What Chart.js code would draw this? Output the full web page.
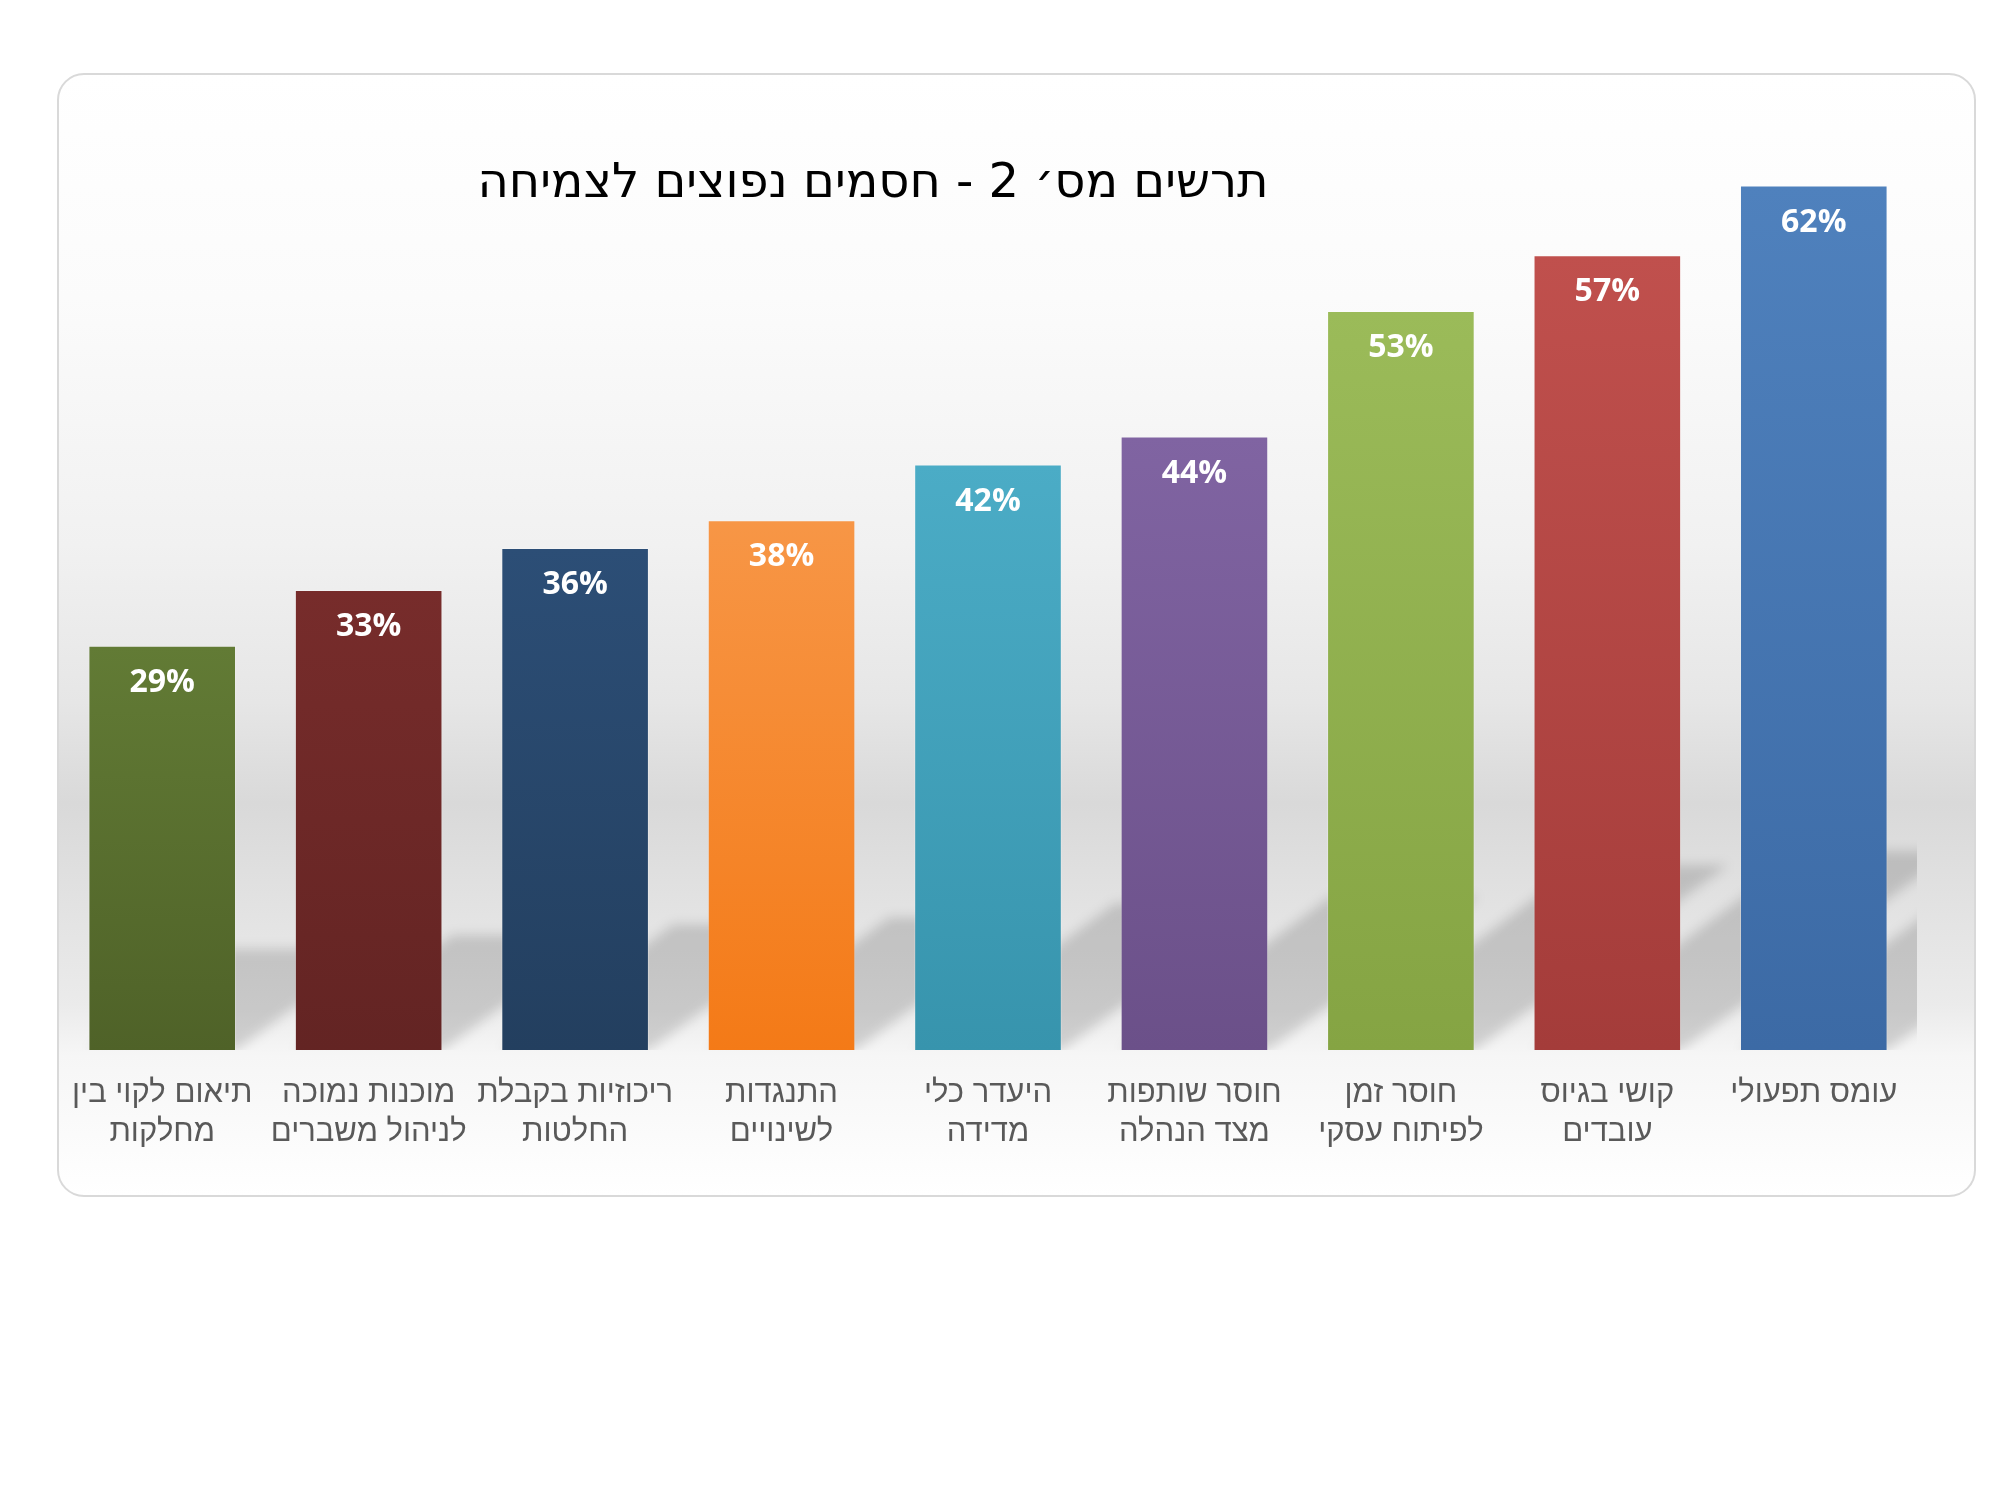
<!DOCTYPE html>
<html lang="he">
<head>
<meta charset="utf-8">
<script src="https://cdn.jsdelivr.net/npm/chart.js@4.4.0/dist/chart.umd.min.js"></script>
<style>
  html, body { margin: 0; padding: 0; background: #fff; }
  canvas { display: block; direction: rtl; }
</style>
</head>
<body>
<canvas id="chart" width="2000" height="1500"></canvas>
<script>
// chart data, left to right as drawn
const categories = [
  ['תיאום לקוי בין', 'מחלקות'],
  ['מוכנות נמוכה', 'לניהול משברים'],
  ['ריכוזיות בקבלת', 'החלטות'],
  ['התנגדות', 'לשינויים'],
  ['היעדר כלי', 'מדידה'],
  ['חוסר שותפות', 'מצד הנהלה'],
  ['חוסר זמן', 'לפיתוח עסקי'],
  ['קושי בגיוס', 'עובדים'],
  ['עומס תפעולי']
];
const values = [29, 33, 36, 38, 42, 44, 53, 57, 62];
const topColors = ['#627b35', '#772c2b', '#2c4e76', '#f79646', '#4bacc6', '#8064a2', '#9bbb59', '#c0504d', '#4f81bd'];
const bottomColors = ['#4f6228', '#632423', '#233f5f', '#f47a17', '#3794ad', '#6b5089', '#85a443', '#a43c3a', '#3c6aa5'];
const chartTitle = 'תרשים מס׳ 2 - חסמים נפוצים לצמיחה';
const yMax = 70;

// frame box on the page
const frame = { left: 58, top: 74, right: 1975, bottom: 1196, radius: 26 };

function roundRect(ctx, x, y, w, h, r) {
  ctx.beginPath();
  ctx.moveTo(x + r, y);
  ctx.lineTo(x + w - r, y);
  ctx.arcTo(x + w, y, x + w, y + r, r);
  ctx.lineTo(x + w, y + h - r);
  ctx.arcTo(x + w, y + h, x + w - r, y + h, r);
  ctx.lineTo(x + r, y + h);
  ctx.arcTo(x, y + h, x, y + h - r, r);
  ctx.lineTo(x, y + r);
  ctx.arcTo(x, y, x + r, y, r);
  ctx.closePath();
}

const framePlugin = {
  id: 'frame',
  beforeDraw(chart) {
    const ctx = chart.ctx;
    const w = frame.right - frame.left, h = frame.bottom - frame.top;
    const g = ctx.createLinearGradient(0, frame.top, 0, frame.bottom);
    g.addColorStop(0, '#ffffff');
    g.addColorStop(0.2, '#fbfbfb');
    g.addColorStop(0.42, '#f1f1f1');
    g.addColorStop(0.56, '#e6e6e6');
    g.addColorStop(0.65, '#d9d9d9');
    g.addColorStop(0.74, '#e2e2e2');
    g.addColorStop(0.83, '#ebebeb');
    g.addColorStop(0.875, '#f6f6f6');
    g.addColorStop(1, '#ffffff');
    ctx.save();
    roundRect(ctx, frame.left, frame.top, w, h, frame.radius);
    ctx.fillStyle = g;
    ctx.fill();
    ctx.lineWidth = 2;
    ctx.strokeStyle = '#d9d9d9';
    ctx.stroke();
    ctx.restore();
  }
};

// soft slanted shadows behind the bars
const shadowPlugin = {
  id: 'barShadows',
  beforeDatasetsDraw(chart) {
    const ctx = chart.ctx;
    const area = chart.chartArea;
    const meta = chart.getDatasetMeta(0);
    ctx.save();
    ctx.beginPath();
    ctx.rect(area.left, area.top, area.right - area.left, area.bottom - area.top);
    ctx.clip();
    ctx.filter = 'blur(6px)';
    ctx.fillStyle = 'rgba(0,0,0,0.15)';
    meta.data.forEach(bar => {
      const p = bar.getProps(['x', 'y', 'base', 'width'], true);
      const L = p.x - p.width / 2, R = p.x + p.width / 2;
      const sh = (p.base - p.y) * 0.25;
      const dx = sh * 1.37;
      ctx.beginPath();
      ctx.moveTo(L, p.base);
      ctx.lineTo(R, p.base);
      ctx.lineTo(R + dx, p.base - sh);
      ctx.lineTo(L + dx, p.base - sh);
      ctx.closePath();
      ctx.fill();
    });
    ctx.restore();
  }
};

const labelPlugin = {
  id: 'valueLabels',
  afterDatasetsDraw(chart) {
    const ctx = chart.ctx;
    const meta = chart.getDatasetMeta(0);
    ctx.save();
    ctx.font = 'bold 32px "Open Sans", "DejaVu Sans", sans-serif';
    ctx.fillStyle = '#ffffff';
    ctx.textAlign = 'center';
    ctx.textBaseline = 'middle';
    meta.data.forEach((bar, i) => {
      ctx.fillText(values[i] + '%', bar.x, bar.y + 37);
    });
    ctx.restore();
  }
};

const titlePlugin = {
  id: 'pageTitle',
  afterDraw(chart) {
    const ctx = chart.ctx;
    ctx.save();
    ctx.font = '48px "DejaVu Sans", "Liberation Sans", sans-serif';
    ctx.fillStyle = '#000000';
    ctx.textAlign = 'center';
    ctx.textBaseline = 'middle';
    ctx.fillText(chartTitle, 873, 185);
    ctx.restore();
  }
};

new Chart(document.getElementById('chart'), {
  type: 'bar',
  data: {
    labels: categories,
    datasets: [{
      data: values,
      backgroundColor(c) {
        const chart = c.chart;
        if (!chart.chartArea) return topColors[c.dataIndex];
        const ys = chart.scales.y;
        const g = chart.ctx.createLinearGradient(0, ys.getPixelForValue(values[c.dataIndex]), 0, ys.getPixelForValue(0));
        g.addColorStop(0, topColors[c.dataIndex]);
        g.addColorStop(1, bottomColors[c.dataIndex]);
        return g;
      },
      borderColor: 'rgba(255,255,255,0.25)',
      borderWidth: 1,
      barPercentage: 0.715,
      categoryPercentage: 1
    }]
  },
  options: {
    responsive: false,
    devicePixelRatio: 1,
    animation: false,
    layout: { padding: { left: 59, right: 83, top: 74, bottom: 300 } },
    plugins: {
      legend: { display: false },
      tooltip: { enabled: false }
    },
    scales: {
      x: {
        grid: { display: false, drawTicks: false },
        border: { display: false },
        ticks: {
          color: '#595959',
          font: { family: '"Liberation Sans", "DejaVu Sans", sans-serif', size: 31, lineHeight: 1.25 },
          padding: 24,
          maxRotation: 0,
          autoSkip: false
        },
        afterFit(scale) { scale.height = 150; }
      },
      y: {
        display: false,
        min: 0,
        max: yMax
      }
    }
  },
  plugins: [framePlugin, shadowPlugin, labelPlugin, titlePlugin]
});
</script>
</body>
</html>
